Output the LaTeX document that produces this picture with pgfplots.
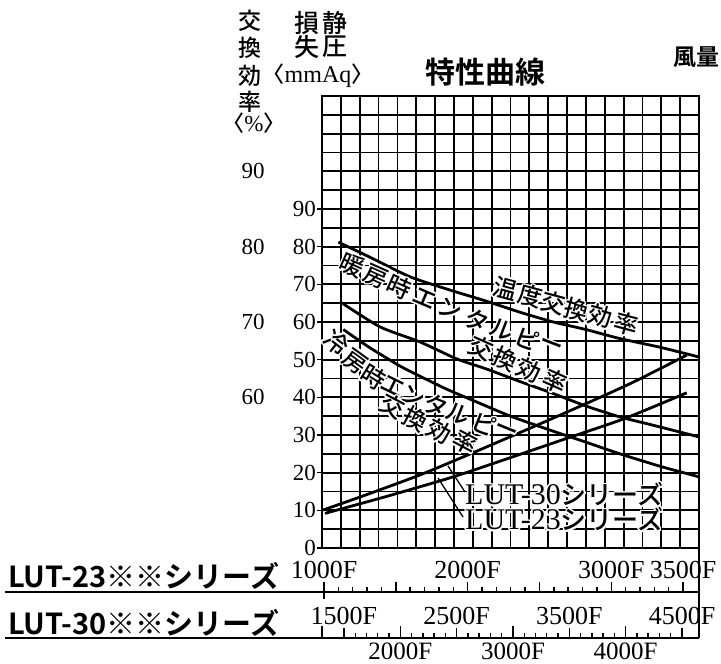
\documentclass[border=0pt]{standalone}
\usepackage{fontspec}
\setmainfont{Liberation Serif}
\newfontfamily\cjk{Noto Sans CJK JP}[UprightFont={* Medium}]
\newfontfamily\cjkb{Noto Sans CJK JP}[UprightFont={* Bold}]
\usepackage{pgfplots}
\pgfplotsset{compat=1.18}
\usepackage[copies]{contour}
\contourlength{1.5pt}
\contournumber{16}
\newcommand\jc[4]{\node[rotate=#3, inner sep=0pt] at (#1pt,{664pt-#2pt}) {\contour{white}{\cjk\fontsize{24}{24}\selectfont #4}};}
\begin{document}
\begin{tikzpicture}
\useasboundingbox (0pt,0pt) rectangle (721pt,664pt);
% main chart
\begin{axis}[
  at={(322pt,116pt)}, anchor=south west, scale only axis,
  width=377pt, height=452pt,
  xmin=0, xmax=20, ymin=0, ymax=120,
  xtick={0,1,...,20}, xticklabels={}, xmajorgrids,
  ytick={0,10,...,90},
  minor ytick={5,15,25,35,45,55,65,75,85,95,100,105,110,115,120},
  ymajorgrids, yminorgrids,
  major grid style={black, line width=1.8pt},
  minor grid style={black, line width=1.8pt},
  axis line style={line width=2.2pt},
  ytick pos=left, tick align=outside,
  major tick length=5pt, minor tick length=0pt,
  xtick style={draw=none},
  ytick style={line width=1.4pt, black},
  yticklabel style={font=\fontsize{23}{23}\selectfont, inner sep=0pt, xshift=-1pt},
  /pgf/number format/assume math mode=true,
  clip=false,
]
% 温度交換効率
\addplot[line width=2.8pt, smooth, tension=0.4] coordinates {
 (0.87,81.2) (2.5,77.3) (4.67,72.0) (6.97,68.2) (8.74,65.5) (10.5,62.6)
 (12.27,60.0) (14,58.0) (15.8,55.6) (17.93,53.3) (20,50.7)};
% 暖房時エンタルピー交換効率
\addplot[line width=2.8pt, smooth, tension=0.4] coordinates {
 (1.04,65.1) (3.08,58.7) (5.2,54.7) (7.15,50.2) (8.74,47.5) (10.5,44.2)
 (12.27,41.0) (14,37.7) (15.8,34.8) (17.4,32.8) (20,29.5)};
% 冷房時エンタルピー交換効率
\addplot[line width=2.8pt, smooth, tension=0.4] coordinates {
 (1.13,58.0) (2.5,53.3) (4.14,48.3) (5.2,45.6) (6.6,42.2) (8,39.2) (10,35.0)
 (12.27,31.0) (14,28.1) (15.8,25.0) (18,21.6) (20,18.9)};
% LUT-30
\addplot[line width=2.8pt, smooth, tension=0.4] coordinates {
 (0.07,10.1) (2.5,14.4) (5.2,19.4) (7.5,24.2) (9.97,29.5) (12,33.9)
 (14.04,38.4) (16.5,44.0) (19.35,51.2)};
% LUT-23
\addplot[line width=2.8pt, smooth, tension=0.4] coordinates {
 (0.16,9.2) (3.5,13.8) (6.97,18.9) (10,24.0) (12.98,29.1) (16.07,34.4) (19.35,41.2)};
% efficiency scale
\node[font=\fontsize{23}{23}\selectfont] at (axis cs:-3.66,40) {60};
\node[font=\fontsize{23}{23}\selectfont] at (axis cs:-3.66,60) {70};
\node[font=\fontsize{23}{23}\selectfont] at (axis cs:-3.66,80) {80};
\node[font=\fontsize{23}{23}\selectfont] at (axis cs:-3.66,100) {90};
\end{axis}
% LUT-23 scale
\begin{axis}[
  at={(322pt,72pt)}, anchor=south west, scale only axis,
  width=377pt, height=20pt,
  xmin=986, xmax=3611, ymin=0, ymax=1,
  axis x line=bottom, axis y line=none,
  axis line style={-, line width=1.8pt},
  xtick={1000,1500,...,3500}, minor x tick num=4, xticklabels={},
  tick align=inside, major tick length=10pt, minor tick length=5pt,
  tick style={line width=1.4pt, black},
  extra x ticks={1000}, extra x tick labels={},
  extra x tick style={tick align=center, major tick length=15pt},
  clip=false]
\addplot[draw=none] coordinates {(1000,0.5)};
\node[anchor=base, inner sep=0pt, font=\fontsize{26}{26}\selectfont, yshift=13pt] at (axis cs:1000,0) {1000F};
\node[anchor=base, inner sep=0pt, font=\fontsize{26}{26}\selectfont, yshift=13pt] at (axis cs:2000,0) {2000F};
\node[anchor=base, inner sep=0pt, font=\fontsize{26}{26}\selectfont, yshift=13pt] at (axis cs:3000,0) {3000F};
\node[anchor=base, inner sep=0pt, font=\fontsize{26}{26}\selectfont, yshift=13pt] at (axis cs:3500,0) {3500F};
\end{axis}
% LUT-30 scale
\begin{axis}[
  at={(322pt,26pt)}, anchor=south west, scale only axis,
  width=377pt, height=20pt,
  xmin=1305, xmax=4651, ymin=0, ymax=1,
  axis x line=bottom, axis y line=none,
  axis line style={-, line width=1.8pt},
  xtick={1500,2000,...,4500}, minor x tick num=4, xticklabels={},
  tick align=inside, major tick length=10pt, minor tick length=5pt,
  tick style={line width=1.4pt, black},
  extra x ticks={1305,2000,3000,4000}, extra x tick labels={},
  extra x tick style={major tick length=12pt},
  clip=false]
\addplot[draw=none] coordinates {(1500,0.5)};
\node[anchor=base, inner sep=0pt, font=\fontsize{26}{26}\selectfont, yshift=13pt] at (axis cs:1500,0) {1500F};
\node[anchor=base, inner sep=0pt, font=\fontsize{26}{26}\selectfont, yshift=13pt] at (axis cs:2500,0) {2500F};
\node[anchor=base, inner sep=0pt, font=\fontsize{26}{26}\selectfont, yshift=13pt] at (axis cs:3500,0) {3500F};
\node[anchor=base, inner sep=0pt, font=\fontsize{26}{26}\selectfont, yshift=13pt] at (axis cs:4500,0) {4500F};
\node[anchor=base, inner sep=0pt, font=\fontsize{25}{25}\selectfont, yshift=-22pt] at (axis cs:2000,0) {2000F};
\node[anchor=base, inner sep=0pt, font=\fontsize{25}{25}\selectfont, yshift=-22pt] at (axis cs:3000,0) {3000F};
\node[anchor=base, inner sep=0pt, font=\fontsize{25}{25}\selectfont, yshift=-22pt] at (axis cs:4000,0) {4000F};
\end{axis}
% right border extension and underlines
\draw[line width=2.2pt] (699pt,116pt) -- (699pt,26pt);
\draw[line width=1.8pt] (5pt,72pt) -- (323pt,72pt);
\draw[line width=1.8pt] (5pt,26pt) -- (323pt,26pt);
\node[anchor=base west, inner sep=0pt] at (8pt,76pt) {\cjkb\fontsize{29}{29}\selectfont LUT-23※※シリーズ};
\node[anchor=base west, inner sep=0pt] at (8pt,29pt) {\cjkb\fontsize{29}{29}\selectfont LUT-30※※シリーズ};
% headers
\node[inner sep=0pt] at (250pt,643pt) {\cjk\fontsize{23}{23}\selectfont 交};
\node[inner sep=0pt] at (250pt,616pt) {\cjk\fontsize{23}{23}\selectfont 換};
\node[inner sep=0pt] at (250pt,588pt) {\cjk\fontsize{23}{23}\selectfont 効};
\node[inner sep=0pt] at (250pt,562pt) {\cjk\fontsize{23}{23}\selectfont 率};
\node[anchor=base, inner sep=0pt] at (254pt,532pt) {{\cjk\fontsize{22}{22}\selectfont 〈}\fontsize{23}{23}\selectfont\%{\cjk\fontsize{22}{22}\selectfont 〉}};
\node[inner sep=0pt] at (307pt,641pt) {\cjk\fontsize{25}{25}\selectfont 損};
\node[inner sep=0pt] at (335pt,641pt) {\cjk\fontsize{25}{25}\selectfont 静};
\node[inner sep=0pt] at (307pt,617pt) {\cjk\fontsize{25}{25}\selectfont 失};
\node[inner sep=0pt] at (335pt,617pt) {\cjk\fontsize{25}{25}\selectfont 圧};
\node[anchor=base, inner sep=0pt] at (318pt,581pt) {{\cjk\fontsize{22}{22}\selectfont 〈}\fontsize{24}{24}\selectfont mmAq{\cjk\fontsize{22}{22}\selectfont 〉}};
\node[inner sep=0pt] at (485pt,592pt) {\cjkb\fontsize{30}{30}\selectfont 特性曲線};
\node[anchor=west, inner sep=0pt] at (673pt,607pt) {\cjkb\fontsize{23}{23}\selectfont 風量};
% curve labels
\jc{505}{289}{-15}{温}\jc{530}{297}{-15}{度}\jc{553}{304}{-15}{交}
\jc{576}{311}{-15}{換}\jc{600}{317}{-15}{効}\jc{626}{325}{-15}{率}
\jc{352}{266}{-24}{暖}\jc{376}{277}{-24}{房}\jc{399}{288}{-24}{時}
\jc{424}{299}{-23}{エ}\jc{450}{310}{-22}{ン}\jc{477}{321}{-22}{タ}
\jc{502}{330}{-21}{ル}\jc{527}{340}{-21}{ピ}\jc{550}{348}{-21}{ー}
\jc{481}{349}{-24}{交}\jc{505}{360}{-24}{換}\jc{529}{371}{-24}{効}\jc{555}{382}{-24}{率}
\jc{336}{343}{-38}{冷}\jc{355}{362}{-36}{房}\jc{373}{378}{-32}{時}
\jc{393}{387}{-26}{エ}\jc{413}{397}{-24}{ン}\jc{436}{406}{-22}{タ}
\jc{458}{415}{-22}{ル}\jc{484}{425}{-22}{ピ}\jc{505}{433}{-22}{ー}
\jc{392}{407}{-28}{交}\jc{415}{420}{-28}{換}\jc{439}{432}{-28}{効}\jc{465}{443}{-28}{率}
% leaders and series labels
\draw[line width=1.3pt] (438pt,{664pt-478pt}) -- (463pt,{664pt-517pt});
\draw[line width=1.3pt] (448pt,{664pt-466pt}) -- (465pt,{664pt-492pt});
\node[anchor=base west, inner sep=0pt] at (465pt,159pt) {\contour{white}{\fontsize{30}{30}\selectfont LUT-30{\cjk\fontsize{26}{26}\selectfont シリーズ}}};
\node[anchor=base west, inner sep=0pt] at (465pt,134pt) {\contour{white}{\fontsize{30}{30}\selectfont LUT-23{\cjk\fontsize{26}{26}\selectfont シリーズ}}};
\end{tikzpicture}
\end{document}
